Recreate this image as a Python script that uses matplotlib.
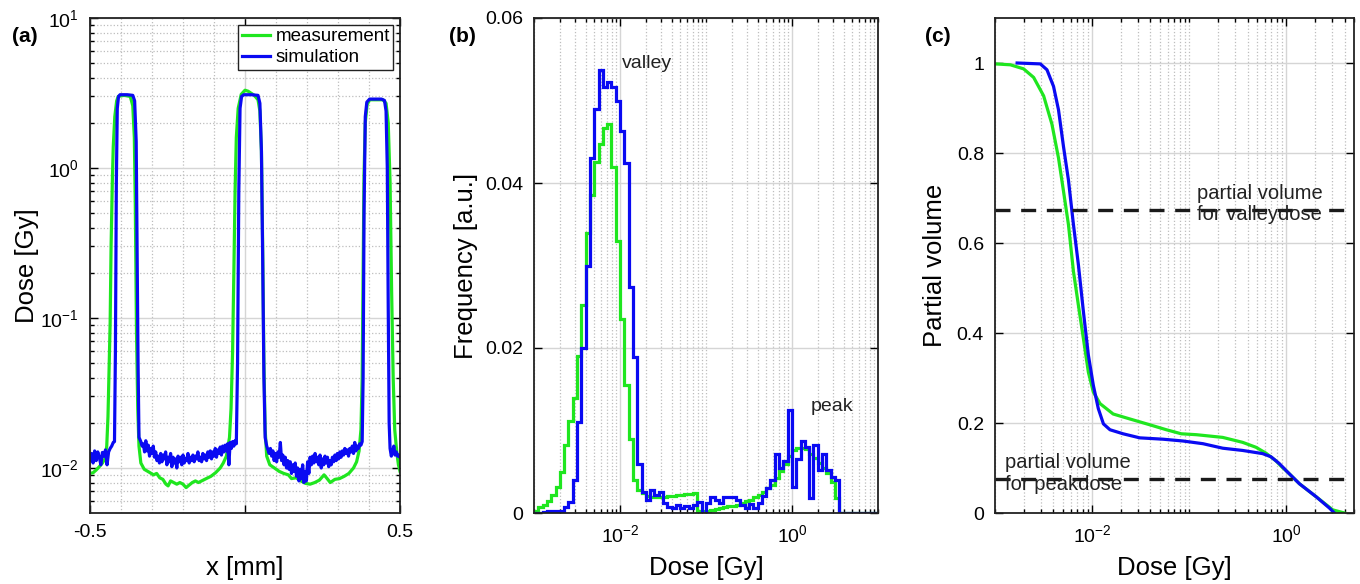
import numpy as np
import matplotlib
matplotlib.use('Agg')
import matplotlib.pyplot as plt
from matplotlib.ticker import FixedLocator, NullFormatter, FixedFormatter

plt.rcParams['font.family'] = ['Liberation Sans', 'DejaVu Sans']
plt.rcParams['mathtext.fontset'] = 'custom'
plt.rcParams['mathtext.rm'] = 'Liberation Sans'
plt.rcParams['mathtext.it'] = 'Liberation Sans:italic'
plt.rcParams['mathtext.bf'] = 'Liberation Sans:bold'
plt.rcParams['axes.unicode_minus'] = False

# ---------------- data: (a) dose profile ----------------
sim_x = [-0.500, -0.495, -0.490, -0.485, -0.480, -0.475, -0.470, -0.465, -0.460, -0.455, -0.450, -0.445,
         -0.440, -0.435, -0.430, -0.425, -0.421,
         -0.418, -0.415, -0.412, -0.408, -0.403, -0.380, -0.362, -0.356, -0.351, -0.348, -0.345, -0.342,
         -0.336, -0.332, -0.328, -0.324, -0.320, -0.316, -0.312, -0.308, -0.304, -0.300, -0.296, -0.292,
         -0.288, -0.284, -0.280, -0.276, -0.272, -0.268, -0.264, -0.260, -0.256, -0.252, -0.248, -0.244,
         -0.240, -0.236, -0.232, -0.228, -0.224, -0.220, -0.216, -0.212, -0.208, -0.204, -0.200, -0.196,
         -0.192, -0.188, -0.184, -0.180, -0.176, -0.172, -0.168, -0.164, -0.160, -0.156, -0.152, -0.148,
         -0.144, -0.140, -0.136, -0.132, -0.128, -0.124, -0.120, -0.116, -0.112, -0.108, -0.104, -0.100,
         -0.096, -0.092, -0.088, -0.084, -0.080, -0.076, -0.072, -0.068, -0.064, -0.060, -0.056, -0.052,
         -0.048, -0.044, -0.040, -0.036, -0.032, -0.028,
         -0.024, -0.020, -0.016, -0.011, -0.004, 0.020, 0.042, 0.048, 0.053, 0.057, 0.061, 0.065,
         0.070, 0.074, 0.078, 0.082, 0.086, 0.090, 0.094, 0.098, 0.102, 0.106, 0.110, 0.114, 0.118, 0.122,
         0.126, 0.130, 0.134, 0.138, 0.142, 0.146, 0.150, 0.154, 0.158, 0.162, 0.166, 0.170, 0.174, 0.178,
         0.182, 0.186, 0.190, 0.194, 0.198, 0.202, 0.206, 0.210, 0.214, 0.218, 0.222, 0.226, 0.230, 0.234,
         0.238, 0.242, 0.246, 0.250, 0.254, 0.258, 0.262, 0.266, 0.270, 0.274, 0.278, 0.282, 0.286, 0.290,
         0.294, 0.298, 0.302, 0.306, 0.310, 0.314, 0.318, 0.322, 0.326, 0.330, 0.334, 0.338, 0.342, 0.346,
         0.350, 0.354, 0.358, 0.362, 0.366, 0.370, 0.374, 0.378,
         0.381, 0.384, 0.388, 0.393, 0.402, 0.440, 0.450, 0.455, 0.459, 0.462, 0.465, 0.468,
         0.472, 0.476, 0.480, 0.484, 0.488, 0.492, 0.496, 0.500]
sim_y = [0.0113, 0.0125, 0.0108, 0.0130, 0.0112, 0.0128, 0.0118, 0.0105, 0.0127, 0.0120, 0.0132, 0.0105,
         0.0128, 0.0135, 0.0140, 0.0148, 0.0150,
         0.06, 0.8, 2.5, 3.0, 3.08, 3.08, 3.05, 2.8, 1.5, 0.3, 0.05, 0.016,
         0.0150, 0.0140, 0.0145, 0.0128, 0.0152, 0.0130, 0.0142, 0.0120, 0.0135, 0.0125, 0.0140, 0.0118,
         0.0128, 0.0112, 0.0120, 0.0108, 0.0125, 0.0110, 0.0122, 0.0115, 0.0128, 0.0105, 0.0118, 0.0110,
         0.0125, 0.0102, 0.0118, 0.0108, 0.0115, 0.0100, 0.0120, 0.0110, 0.0118, 0.0105, 0.0122, 0.0108,
         0.0116, 0.0112, 0.0125, 0.0108, 0.0118, 0.0112, 0.0122, 0.0110, 0.0120, 0.0115, 0.0128, 0.0112,
         0.0118, 0.0110, 0.0125, 0.0115, 0.0122, 0.0112, 0.0128, 0.0118, 0.0130, 0.0115, 0.0128, 0.0120,
         0.0135, 0.0118, 0.0132, 0.0125, 0.0138, 0.0122, 0.0140, 0.0128, 0.0142, 0.0130, 0.0145, 0.0105,
         0.0148, 0.0135, 0.0150, 0.0140, 0.0152, 0.0145,
         0.05, 0.7, 2.5, 3.0, 3.08, 3.08, 3.05, 2.7, 1.3, 0.25, 0.04, 0.016,
         0.0140, 0.0132, 0.0125, 0.0135, 0.0120, 0.0130, 0.0112, 0.0125, 0.0110, 0.0128, 0.0118, 0.0148,
         0.0112, 0.0122, 0.0105, 0.0118, 0.0100, 0.0112, 0.0098, 0.0110, 0.0092, 0.0105, 0.0095, 0.0108,
         0.0088, 0.0100, 0.0082, 0.0098, 0.0085, 0.0105, 0.0080, 0.0095, 0.0082, 0.0110, 0.0092, 0.0118,
         0.0105, 0.0120, 0.0108, 0.0125, 0.0110, 0.0118, 0.0105, 0.0122, 0.0100, 0.0115, 0.0105, 0.0120,
         0.0108, 0.0118, 0.0102, 0.0112, 0.0105, 0.0118, 0.0110, 0.0122, 0.0112, 0.0125, 0.0115, 0.0128,
         0.0118, 0.0130, 0.0122, 0.0135, 0.0125, 0.0132, 0.0120, 0.0135, 0.0128, 0.0140, 0.0125, 0.0148,
         0.0130, 0.0140, 0.0135, 0.0145, 0.0142, 0.0150,
         0.04, 0.5, 2.2, 2.75, 2.88, 2.88, 2.82, 2.4, 1.0, 0.12, 0.02, 0.0135,
         0.0120, 0.0128, 0.0140, 0.0122, 0.0128, 0.0120, 0.0122, 0.0118]

meas_x = [-0.500, -0.490, -0.480, -0.470, -0.460, -0.452, -0.446, -0.442, -0.438, -0.435, -0.432, -0.428,
          -0.425, -0.420, -0.414, -0.409, -0.390, -0.370, -0.362, -0.357, -0.354, -0.350, -0.346, -0.342,
          -0.336, -0.325, -0.310, -0.295, -0.285, -0.275, -0.265, -0.255, -0.248, -0.240, -0.230, -0.220,
          -0.210, -0.200, -0.190, -0.180, -0.170, -0.160, -0.150, -0.140, -0.125, -0.110, -0.095, -0.080,
          -0.070, -0.060, -0.050, -0.045, -0.040, -0.036, -0.032, -0.028, -0.022, -0.012, 0.000, 0.010,
          0.030, 0.042, 0.048, 0.053, 0.057, 0.061, 0.065, 0.070, 0.080, 0.095, 0.110, 0.125, 0.140,
          0.150, 0.165, 0.180, 0.195, 0.210, 0.225, 0.240, 0.255, 0.265, 0.275, 0.290, 0.305, 0.320,
          0.335, 0.350, 0.360, 0.368, 0.374, 0.378, 0.381, 0.384, 0.388, 0.394, 0.402, 0.445, 0.455,
          0.462, 0.468, 0.473, 0.478, 0.483, 0.490, 0.495, 0.500]
meas_y = [0.0092, 0.0093, 0.0097, 0.0102, 0.0108, 0.0115, 0.0140, 0.022, 0.05, 0.093, 0.3, 0.8,
          1.38, 2.2, 2.8, 3.0, 3.05, 3.0, 2.6, 1.6, 0.6, 0.08, 0.025, 0.014,
          0.0108, 0.0098, 0.0094, 0.0090, 0.0092, 0.0086, 0.0084, 0.0078, 0.0076, 0.0082, 0.0080, 0.0078,
          0.0080, 0.0078, 0.0074, 0.0077, 0.0080, 0.0082, 0.0080, 0.0082, 0.0085, 0.0088, 0.0093, 0.0100,
          0.0108, 0.0120, 0.016, 0.025, 0.06, 0.2, 0.7, 1.6, 2.5, 3.1, 3.3, 3.25,
          3.05, 2.85, 2.4, 1.3, 0.3, 0.05, 0.018, 0.0120, 0.0105, 0.0100, 0.0095, 0.0092, 0.0090,
          0.0085, 0.0086, 0.0082, 0.0079, 0.0078, 0.0080, 0.0083, 0.0090, 0.0085, 0.0080, 0.0084, 0.0085, 0.0088,
          0.0092, 0.0100, 0.0110, 0.0130, 0.018, 0.04, 0.2, 0.9, 2.0, 2.65, 2.85, 2.85, 2.7,
          2.0, 0.8, 0.15, 0.04, 0.018, 0.0125, 0.0105, 0.0095]

# ---------------- data: (b) dose histograms (20 bins per decade, 1e-3 .. 10) ----------------
bin_edges = np.logspace(-3, 1, 81)
hist_meas = [0.0003, 0.0007, 0.0010, 0.0015, 0.0022, 0.0031, 0.0050, 0.0082, 0.0112, 0.0140,
             0.0190, 0.0252, 0.0340, 0.0385, 0.0425, 0.0447, 0.0467, 0.0472, 0.0420, 0.0330,
             0.0235, 0.0155, 0.0090, 0.0040, 0.0028, 0.0024, 0.0021, 0.0020, 0.0020, 0.0020,
             0.0020, 0.0021, 0.0021, 0.0022, 0.0022, 0.0023, 0.0023, 0.0024, 0.0002, 0.0002,
             0.0003, 0.0004, 0.0005, 0.0006, 0.0007, 0.0008, 0.0009, 0.0010, 0.0012, 0.0014,
             0.0016, 0.0019, 0.0022, 0.0026, 0.0030, 0.0034, 0.0042, 0.0051, 0.0060, 0.0069,
             0.0076, 0.0079, 0.0079, 0.0077, 0.0072, 0.0067, 0.0061, 0.0055, 0.0049, 0.0038,
             0.0018, 0.0, 0.0, 0.0, 0.0, 0.0, 0.0, 0.0, 0.0, 0.0]
hist_sim = [0.0000, 0.0000, 0.0001, 0.0002, 0.0002, 0.0002, 0.0003, 0.0007, 0.0013, 0.0040,
            0.0110, 0.0200, 0.0300, 0.0430, 0.0490, 0.0537, 0.0516, 0.0522, 0.0516, 0.0500,
            0.0463, 0.0424, 0.0274, 0.0189, 0.0060, 0.0025, 0.0016, 0.0028, 0.0022, 0.0025,
            0.0012, 0.0007, 0.0006, 0.0010, 0.0006, 0.0008, 0.0006, 0.0010, 0.0013, 0.0000,
            0.0012, 0.0019, 0.0016, 0.0012, 0.0020, 0.0019, 0.0020, 0.0016, 0.0010, 0.0006,
            0.0011, 0.0006, 0.0012, 0.0021, 0.0030, 0.0040, 0.0072, 0.0055, 0.0063, 0.0125,
            0.0032, 0.0065, 0.0087, 0.0080, 0.0018, 0.0082, 0.0052, 0.0071, 0.0052, 0.0044,
            0.0040, 0.0, 0.0, 0.0, 0.0, 0.0, 0.0, 0.0, 0.0, 0.0]

# ---------------- data: (c) cumulative dose-volume ----------------
cum_meas_dose = [1.0e-3, 1.44e-3, 1.97e-3, 2.50e-3, 3.17e-3, 3.86e-3, 4.51e-3, 5.08e-3, 5.71e-3,
                 6.43e-3, 7.23e-3, 8.14e-3, 9.16e-3, 1.03e-2, 1.21e-2, 1.65e-2, 2.45e-2, 3.94e-2,
                 5.83e-2, 8.31e-2, 0.119, 0.222, 0.356, 0.489, 0.619, 0.784, 0.916, 1.0, 1.37,
                 2.04, 3.02, 3.98]
cum_meas_vol = [0.998, 0.996, 0.987, 0.968, 0.927, 0.864, 0.789, 0.715, 0.641,
                0.537, 0.462, 0.388, 0.313, 0.269, 0.243, 0.220, 0.209, 0.196,
                0.185, 0.176, 0.174, 0.168, 0.157, 0.146, 0.133, 0.116, 0.101, 0.094, 0.065,
                0.036, 0.007, 0.0]
cum_sim_dose = [1.69e-3, 2.93e-3, 3.43e-3, 4.01e-3, 4.51e-3, 5.08e-3, 5.71e-3, 6.43e-3, 7.23e-3,
                8.14e-3, 9.16e-3, 1.03e-2, 1.16e-2, 1.31e-2, 1.53e-2, 2.09e-2, 3.10e-2, 5.38e-2,
                8.63e-2, 0.139, 0.222, 0.356, 0.571, 0.697, 0.848, 0.953, 1.0, 1.37, 2.04, 2.79, 3.14]
cum_sim_vol = [1.0, 0.998, 0.985, 0.948, 0.896, 0.814, 0.740, 0.641, 0.552,
               0.448, 0.351, 0.284, 0.232, 0.198, 0.185, 0.176, 0.167, 0.164,
               0.160, 0.154, 0.144, 0.139, 0.132, 0.125, 0.110, 0.099, 0.094, 0.065, 0.036, 0.011, 0.0]

valley_volume = 0.674
peak_volume = 0.076

GREEN = '#1FE61F'
BLUE = '#0A0AF2'
LW = 2.3

W, H = 1360, 584
fig = plt.figure(figsize=(W / 100, H / 100), dpi=100)

def axrect(l, r, t=18, b=513):
    return [l / W, 1 - b / H, (r - l) / W, (b - t) / H]

ax1 = fig.add_axes(axrect(90, 400))
ax2 = fig.add_axes(axrect(534, 878))
ax3 = fig.add_axes(axrect(995, 1354))

TICK_FS = 14
LABEL_FS = 18.5

def style(ax):
    ax.tick_params(which='both', direction='in', top=True, right=True, labelsize=TICK_FS, width=1.0)
    ax.tick_params(which='major', length=6, pad=8)
    ax.tick_params(which='minor', length=3)
    for s in ax.spines.values():
        s.set_linewidth(1.3)
        s.set_color('#222222')
    ax.set_axisbelow(True)

def place_labels(ax, ylab_x):
    ax.xaxis.label.set_va('center')
    ax.xaxis.set_label_coords(0.5, -0.111)
    ax.yaxis.label.set_va('center')
    ax.yaxis.set_label_coords(ylab_x, 0.5)

major_grid = dict(color='#D5D5D5', linestyle='-', linewidth=1.0)
minor_grid = dict(color='#BDBDBD', linestyle=':', linewidth=0.9)

# ---------------- (a) ----------------
ax1.plot(meas_x, meas_y, color=GREEN, lw=LW, label='measurement')
ax1.plot(sim_x, sim_y, color=BLUE, lw=LW, label='simulation')
ax1.set_yscale('log')
ax1.set_xlim(-0.5, 0.5)
ax1.set_ylim(10 ** -2.3, 10)
ax1.xaxis.set_major_locator(FixedLocator([-0.5, 0.0, 0.5]))
ax1.xaxis.set_major_formatter(FixedFormatter(['-0.5', '', '0.5']))
ax1.xaxis.set_minor_locator(FixedLocator([-0.4, -0.3, -0.2, -0.1, 0.1, 0.2, 0.3, 0.4]))
ax1.yaxis.set_major_locator(FixedLocator([1e-2, 1e-1, 1e0, 1e1]))
ax1.yaxis.set_major_formatter(FixedFormatter(['$10^{-2}$', '$10^{-1}$', '$10^{0}$', '$10^{1}$']))
ymin_a = [m * 10.0 ** e for e in (-3, -2, -1, 0) for m in range(2, 10)]
ax1.yaxis.set_minor_locator(FixedLocator(ymin_a))
ax1.yaxis.set_minor_formatter(NullFormatter())
style(ax1)
ax1.tick_params(axis='x', which='minor', length=0)
ax1.grid(True, which='major', **major_grid)
ax1.grid(True, which='minor', **minor_grid)
ax1.set_xlabel('x [mm]', fontsize=LABEL_FS)
ax1.set_ylabel('Dose [Gy]', fontsize=LABEL_FS)
place_labels(ax1, -0.203)
leg = ax1.legend(loc='upper right', fontsize=13.5, frameon=True, fancybox=False, framealpha=1,
                 edgecolor='#222222', borderaxespad=0.35, handlelength=1.5, handletextpad=0.3,
                 borderpad=0.2, labelspacing=0.2)
leg.get_frame().set_linewidth(1.0)

# ---------------- (b) ----------------
ax2.stairs(hist_meas, bin_edges, color=GREEN, lw=LW, baseline=0)
ax2.stairs(hist_sim, bin_edges, color=BLUE, lw=LW, baseline=0)
ax2.set_xscale('log')
ax2.set_xlim(1e-3, 10)
ax2.set_ylim(0, 0.06)
ax2.xaxis.set_major_locator(FixedLocator([1e-2, 1e0]))
ax2.xaxis.set_major_formatter(FixedFormatter(['$10^{-2}$', '$10^{0}$']))
xmin_log = [m * 10.0 ** e for e in (-3, -2, -1, 0) for m in range(1, 10)
            if not (m == 1 and e in (-2, 0))] + [10.0]
ax2.xaxis.set_minor_locator(FixedLocator(xmin_log))
ax2.xaxis.set_minor_formatter(NullFormatter())
ax2.yaxis.set_major_locator(FixedLocator([0, 0.02, 0.04, 0.06]))
ax2.yaxis.set_major_formatter(FixedFormatter(['0', '0.02', '0.04', '0.06']))
style(ax2)
ax2.grid(True, which='major', **major_grid)
ax2.grid(True, which='minor', axis='x', **minor_grid)
ax2.set_xlabel('Dose [Gy]', fontsize=LABEL_FS)
ax2.set_ylabel('Frequency [a.u.]', fontsize=LABEL_FS)
place_labels(ax2, -0.198)
ax2.text(0.0105, 0.0545, 'valley', fontsize=14, ha='left', va='center', color='#222222')
ax2.text(1.67, 0.0129, 'peak', fontsize=14, ha='left', va='center', color='#222222')

# ---------------- (c) ----------------
ax3.plot(cum_meas_dose, cum_meas_vol, color=GREEN, lw=LW)
ax3.plot(cum_sim_dose, cum_sim_vol, color=BLUE, lw=LW)
ax3.axhline(valley_volume, color='#1A1A1A', lw=2.4, ls=(0, (4.5, 3.2)))
ax3.axhline(peak_volume, color='#1A1A1A', lw=2.4, ls=(0, (4.5, 3.2)))
ax3.set_xscale('log')
ax3.set_xlim(1e-3, 5)
ax3.set_ylim(0, 1.1)
ax3.xaxis.set_major_locator(FixedLocator([1e-2, 1e0]))
ax3.xaxis.set_major_formatter(FixedFormatter(['$10^{-2}$', '$10^{0}$']))
xmin_c = [m * 10.0 ** e for e in (-3, -2, -1, 0) for m in range(1, 10)
          if not (m == 1 and e in (-2, 0))]
ax3.xaxis.set_minor_locator(FixedLocator(xmin_c))
ax3.xaxis.set_minor_formatter(NullFormatter())
ax3.yaxis.set_major_locator(FixedLocator([0, 0.2, 0.4, 0.6, 0.8, 1.0]))
ax3.yaxis.set_major_formatter(FixedFormatter(['0', '0.2', '0.4', '0.6', '0.8', '1']))
style(ax3)
ax3.grid(True, which='major', **major_grid)
ax3.grid(True, which='minor', axis='x', **minor_grid)
ax3.set_xlabel('Dose [Gy]', fontsize=LABEL_FS)
ax3.set_ylabel('Partial volume', fontsize=LABEL_FS)
place_labels(ax3, -0.167)
ax3.text(0.122, 0.686, 'partial volume\nfor valleydose', fontsize=14.5, ha='left', va='center',
         color='#222222', linespacing=1.15)
ax3.text(1.28e-3, 0.088, 'partial volume\nfor peakdose', fontsize=14.5, ha='left', va='center',
         color='#222222', linespacing=1.15)

# panel labels
fig.text(12 / W, 1 - 36 / H, '(a)', fontsize=15, fontweight='bold', va='center', ha='left')
fig.text(449 / W, 1 - 36 / H, '(b)', fontsize=15, fontweight='bold', va='center', ha='left')
fig.text(925 / W, 1 - 36 / H, '(c)', fontsize=15, fontweight='bold', va='center', ha='left')

fig.savefig('out.png', dpi=100)
